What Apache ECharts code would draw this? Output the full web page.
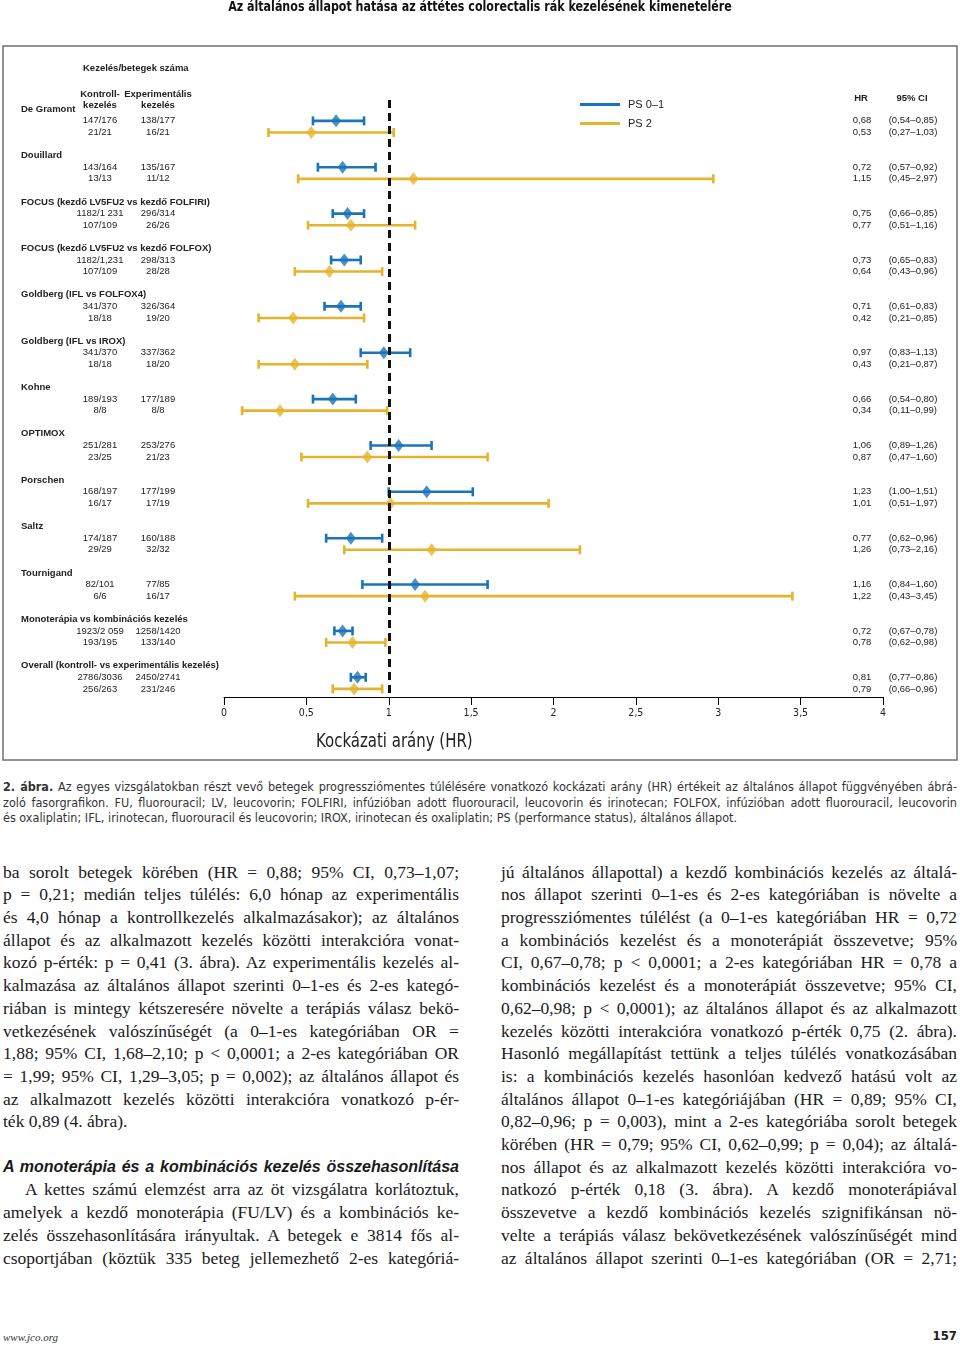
<!DOCTYPE html>
<html><head><meta charset="utf-8">
<script src="https://cdn.jsdelivr.net/npm/echarts@6/dist/echarts.min.js"></script>
<style>
html,body{margin:0;padding:0;background:#fff;}
#page{position:relative;width:960px;height:1345px;overflow:hidden;background:#fff;}
#chart{position:absolute;left:0;top:0;width:960px;height:770px;}
.ln{position:absolute;white-space:nowrap;}
.body{font-family:"Liberation Serif","DejaVu Serif",serif;font-size:17.5px;color:#1a1a1a;}
.head{font-family:"Liberation Sans",Arial,sans-serif;font-size:16px;font-weight:bold;font-style:italic;color:#1a1a1a;}
.cap{font-family:"Liberation Sans Narrow","DejaVu Sans Condensed","Liberation Sans",sans-serif;font-size:12.5px;color:#333;}
.foot1{font-family:"Liberation Serif",serif;font-style:italic;font-size:11px;color:#333;}
.foot2{font-family:"Liberation Sans Narrow","DejaVu Sans Condensed",sans-serif;font-weight:bold;font-size:13px;color:#222;}
</style></head>
<body><div id="page"><div id="chart"></div><div id="text"></div></div>
<script>
// ---------- DATA ----------
const studies = [
  'De Gramont','Douillard','FOCUS (kezdő LV5FU2 vs kezdő FOLFIRI)','FOCUS (kezdő LV5FU2 vs kezdő FOLFOX)',
  'Goldberg (IFL vs FOLFOX4)','Goldberg (IFL vs IROX)','Kohne','OPTIMOX','Porschen','Saltz','Tournigand',
  'Monoterápia vs kombinációs kezelés','Overall (kontroll- vs experimentális kezelés)'
];
const ctrlPS01 = ['147/176','143/164','1182/1 231','1182/1,231','341/370','341/370','189/193','251/281','168/197','174/187','82/101','1923/2 059','2786/3036'];
const expPS01  = ['138/177','135/167','296/314','298/313','326/364','337/362','177/189','253/276','177/199','160/188','77/85','1258/1420','2450/2741'];
const ctrlPS2  = ['21/21','13/13','107/109','107/109','18/18','18/18','8/8','23/25','16/17','29/29','6/6','193/195','256/263'];
const expPS2   = ['16/21','11/12','26/26','28/28','19/20','18/20','8/8','21/23','17/19','32/32','16/17','133/140','231/246'];
const hrPS01 = [0.68,0.72,0.75,0.73,0.71,0.97,0.66,1.06,1.23,0.77,1.16,0.72,0.81];
const loPS01 = [0.54,0.57,0.66,0.65,0.61,0.83,0.54,0.89,1.00,0.62,0.84,0.67,0.77];
const hiPS01 = [0.85,0.92,0.85,0.83,0.83,1.13,0.80,1.26,1.51,0.96,1.60,0.78,0.86];
const hrPS2  = [0.53,1.15,0.77,0.64,0.42,0.43,0.34,0.87,1.01,1.26,1.22,0.78,0.79];
const loPS2  = [0.27,0.45,0.51,0.43,0.21,0.21,0.11,0.47,0.51,0.73,0.43,0.62,0.66];
const hiPS2  = [1.03,2.97,1.16,0.96,0.85,0.87,0.99,1.60,1.97,2.16,3.45,0.98,0.96];
const seriesNames = ['PS 0–1','PS 2'];
const refHR = 1;

// ---------- STYLE ----------
const BLUE = '#1b74b8', YEL = '#e6b42c';
const SANS = '"Liberation Sans", Arial, sans-serif';
const COND = '"Liberation Sans Narrow", "DejaVu Sans Condensed", "Liberation Sans", sans-serif';
const fmt = v => v.toFixed(2).replace('.', ',');
const ROWS = 4; // y-units per study block

const chart = echarts.init(document.getElementById('chart'), null, {renderer:'canvas'});

function ciRender(color){
  return function(params, api){
    const y = api.value(2);
    const a = api.coord([api.value(0), y]);
    const b = api.coord([api.value(1), y]);
    const h = 4.5;
    const st = {stroke: color, lineWidth: 2.6};
    return {type:'group', children:[
      {type:'line', shape:{x1:a[0],y1:a[1],x2:b[0],y2:b[1]}, style:st},
      {type:'line', shape:{x1:a[0],y1:a[1]-h,x2:a[0],y2:a[1]+h}, style:st},
      {type:'line', shape:{x1:b[0],y1:b[1]-h,x2:b[0],y2:b[1]+h}, style:st}
    ]};
  };
}

function txt(x, y, text, align, bold){
  return {type:'text', x:x, y:y, style:{text:text, fill:'#222', fontSize:9.5, fontFamily:SANS,
    fontWeight: bold ? 'bold' : 'normal', align: align, verticalAlign:'middle'}};
}

const option = {
  animation:false,
  grid:{left:224, right:77, top:100, bottom:73},
  xAxis:{type:'value', min:0, max:4, interval:0.5,
    splitLine:{show:false},
    axisLine:{onZero:false, lineStyle:{color:'#000', width:1}},
    axisTick:{length:8, lineStyle:{color:'#000', width:1}},
    axisLabel:{margin:11, fontSize:10.5, color:'#222', fontFamily:COND,
      formatter: v => String(v).replace('.', ',')}},
  yAxis:{type:'value', inverse:true, min:-1.8, max:49.7, show:false},
  legend:{left:580, top:99, orient:'vertical', itemWidth:40, itemHeight:3, itemGap:8, padding:0,
    selectedMode:false,
    data:[{name:seriesNames[0], icon:'rect'},{name:seriesNames[1], icon:'rect'}],
    textStyle:{fontSize:11, color:'#222', fontFamily:SANS, padding:[0,0,0,3]}},
  series:[
    {type:'custom', name:seriesNames[0], itemStyle:{color:BLUE}, clip:false,
      renderItem: ciRender(BLUE), encode:{x:[0,1], y:2},
      data: hrPS01.map((h,i)=>[loPS01[i], hiPS01[i], i*ROWS])},
    {type:'scatter', name:seriesNames[0], symbol:'diamond', symbolSize:[10,13], itemStyle:{color:BLUE},
      data: hrPS01.map((h,i)=>[h, i*ROWS]), z:3,
      markLine:{silent:true, symbol:'none', label:{show:false},
        lineStyle:{color:'#111', width:3, type:[8,5]}, data:[{xAxis:refHR}]}},
    {type:'custom', name:seriesNames[1], itemStyle:{color:YEL}, clip:false,
      renderItem: ciRender(YEL), encode:{x:[0,1], y:2},
      data: hrPS2.map((h,i)=>[loPS2[i], hiPS2[i], i*ROWS+1])},
    {type:'scatter', name:seriesNames[1], symbol:'diamond', symbolSize:[10,13], itemStyle:{color:YEL},
      data: hrPS2.map((h,i)=>[h, i*ROWS+1]), z:3},
    {type:'custom', name:'labels', clip:false, silent:true,
      renderItem: function(params, api){
        const i = params.dataIndex;
        const v = api.value(1);
        const yS = api.coord([0, v-1])[1], yB = api.coord([0, v])[1], yY = api.coord([0, v+1])[1];
        return {type:'group', children:[
          txt(21, yS, studies[i], 'left', true),
          txt(100, yB, ctrlPS01[i], 'center'),
          txt(158, yB, expPS01[i], 'center'),
          txt(100, yY, ctrlPS2[i], 'center'),
          txt(158, yY, expPS2[i], 'center'),
          txt(862, yB, fmt(hrPS01[i]), 'center'),
          txt(913, yB, '(' + fmt(loPS01[i]) + '–' + fmt(hiPS01[i]) + ')', 'center'),
          txt(862, yY, fmt(hrPS2[i]), 'center'),
          txt(913, yY, '(' + fmt(loPS2[i]) + '–' + fmt(hiPS2[i]) + ')', 'center')
        ]};
      },
      encode:{x:0, y:1},
      data: studies.map((s,i)=>[0, i*ROWS])}
  ],
  graphic:[
    {type:'rect', shape:{x:3, y:46, width:954, height:714}, style:{fill:'none', stroke:'#707070', lineWidth:1.5}, silent:true},
    {type:'text', x:480, y:7, scaleX:0.88, style:{text:'Az általános állapot hatása az áttétes colorectalis rák kezelésének kimenetelére',
      fontSize:14, fontWeight:'bold', fontFamily:COND, fill:'#111', align:'center', verticalAlign:'middle'}},
    txt(83, 68, 'Kezelés/betegek száma', 'left', true),
    txt(100, 94, 'Kontroll-', 'center', true),
    txt(100, 105, 'kezelés', 'center', true),
    txt(158, 94, 'Experimentális', 'center', true),
    txt(158, 105, 'kezelés', 'center', true),
    txt(861, 98, 'HR', 'center', true),
    txt(912, 98, '95% CI', 'center', true),
    {type:'text', x:316, y:742, scaleX:0.876, style:{text:'Kockázati arány (HR)', fontSize:19, fontFamily:COND, fill:'#222',
      align:'left', verticalAlign:'middle'}}
  ]
};
chart.setOption(option);

// ---------- ARTICLE TEXT ----------
const captionLines = [
  '<b>2. ábra.</b> Az egyes vizsgálatokban részt vevő betegek progressziómentes túlélésére vonatkozó kockázati arány (HR) értékeit az általános állapot függvényében ábrá-',
  'zoló fasorgrafikon. FU, fluorouracil; LV, leucovorin; FOLFIRI, infúzióban adott fluorouracil, leucovorin és irinotecan; FOLFOX, infúzióban adott fluorouracil, leucovorin',
  'és oxaliplatin; IFL, irinotecan, fluorouracil és leucovorin; IROX, irinotecan és oxaliplatin; PS (performance status), általános állapot.'
];
const leftLines = [
  'ba sorolt betegek körében (HR = 0,88; 95% CI, 0,73–1,07;',
  'p = 0,21; medián teljes túlélés: 6,0 hónap az experimentális',
  'és 4,0 hónap a kontrollkezelés alkalmazásakor); az általános',
  'állapot és az alkalmazott kezelés közötti interakcióra vonat-',
  'kozó p-érték: p = 0,41 (3. ábra). Az experimentális kezelés al-',
  'kalmazása az általános állapot szerinti 0–1-es és 2-es kategó-',
  'riában is mintegy kétszeresére növelte a terápiás válasz bekö-',
  'vetkezésének valószínűségét (a 0–1-es kategóriában OR =',
  '1,88; 95% CI, 1,68–2,10; p < 0,0001; a 2-es kategóriában OR',
  '= 1,99; 95% CI, 1,29–3,05; p = 0,002); az általános állapot és',
  'az alkalmazott kezelés közötti interakcióra vonatkozó p-ér-',
  'ték 0,89 (4. ábra).'
];
const leftHeading = 'A monoterápia és a kombinációs kezelés összehasonlítása';
const leftLines2 = [
  'A kettes számú elemzést arra az öt vizsgálatra korlátoztuk,',
  'amelyek a kezdő monoterápia (FU/LV) és a kombinációs ke-',
  'zelés összehasonlítására irányultak. A betegek e 3814 fős al-',
  'csoportjában (köztük 335 beteg jellemezhető 2-es kategóriá-'
];
const rightLines = [
  'jú általános állapottal) a kezdő kombinációs kezelés az általá-',
  'nos állapot szerinti 0–1-es és 2-es kategóriában is növelte a',
  'progressziómentes túlélést (a 0–1-es kategóriában HR = 0,72',
  'a kombinációs kezelést és a monoterápiát összevetve; 95%',
  'CI, 0,67–0,78; p < 0,0001; a 2-es kategóriában HR = 0,78 a',
  'kombinációs kezelést és a monoterápiát összevetve; 95% CI,',
  '0,62–0,98; p < 0,0001); az általános állapot és az alkalmazott',
  'kezelés közötti interakcióra vonatkozó p-érték 0,75 (2. ábra).',
  'Hasonló megállapítást tettünk a teljes túlélés vonatkozásában',
  'is: a kombinációs kezelés hasonlóan kedvező hatású volt az',
  'általános állapot 0–1-es kategóriájában (HR = 0,89; 95% CI,',
  '0,82–0,96; p = 0,003), mint a 2-es kategóriába sorolt betegek',
  'körében (HR = 0,79; 95% CI, 0,62–0,99; p = 0,04); az általá-',
  'nos állapot és az alkalmazott kezelés közötti interakcióra vo-',
  'natkozó p-érték 0,18 (3. ábra). A kezdő monoterápiával',
  'összevetve a kezdő kombinációs kezelés szignifikánsan nö-',
  'velte a terápiás válasz bekövetkezésének valószínűségét mind',
  'az általános állapot szerinti 0–1-es kategóriában (OR = 2,71;'
];

const box = document.getElementById('text');
function addLine(text, x, y, w, cls, justify, lh, isHtml, align){
  const d = document.createElement('div');
  d.className = 'ln ' + cls;
  d.style.top = (y - lh/2) + 'px';
  d.style.lineHeight = lh + 'px';
  const s = document.createElement('span');
  if (isHtml) s.innerHTML = text; else s.textContent = text;
  d.appendChild(s);
  box.appendChild(d);
  if (align === 'right') { d.style.right = (960 - x) + 'px'; } else { d.style.left = x + 'px'; }
  if (justify){
    const nat = s.getBoundingClientRect().width;
    const n = (s.textContent.match(/ /g) || []).length;
    if (n > 0) s.style.wordSpacing = ((w - nat) / n) + 'px';
  }
}
function layoutText(){
  box.innerHTML = '';
  const capY = [787, 802.5, 818];
  captionLines.forEach((t,i)=>addLine(t, 3, capY[i], 954, 'cap', i < 2, 16, true));
  const LH = 22.7, Y0 = 872, CW = 456;
  leftLines.forEach((t,i)=>addLine(t, 3, Y0 + i*LH, CW, 'body', i < leftLines.length-1, LH));
  addLine(leftHeading, 3, Y0 + 13*LH, CW, 'head', true, LH);
  leftLines2.forEach((t,i)=>{
    const ind = i === 0 ? 22 : 0;
    addLine(t, 3 + ind, Y0 + (14+i)*LH, CW - ind, 'body', true, LH);
  });
  rightLines.forEach((t,i)=>addLine(t, 501, Y0 + i*LH, CW, 'body', true, LH));
  addLine('www.jco.org', 3, 1337, 0, 'foot1', false, 14);
  addLine('157', 957, 1336, 0, 'foot2', false, 14, false, 'right');
}
layoutText();
if (document.fonts && document.fonts.ready) document.fonts.ready.then(layoutText);
</script>
</body></html>
